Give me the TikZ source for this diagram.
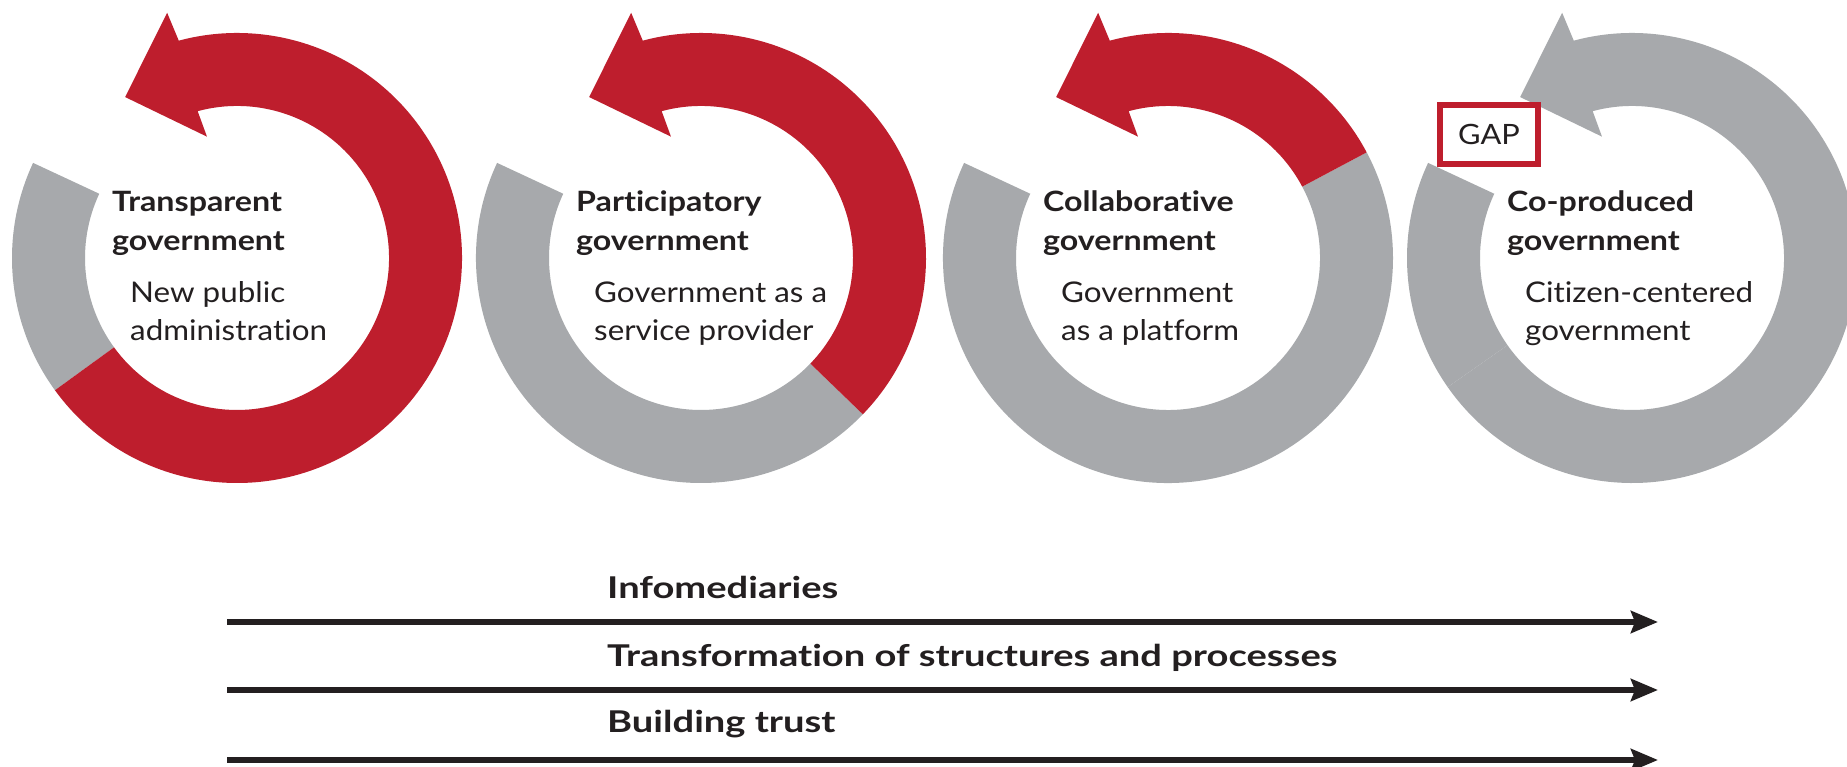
\documentclass[tikz,border=0pt]{standalone}
\usepackage{fontspec}
\setmainfont{Lato}[Ligatures=NoCommon]
\newfontfamily\titlefont{Lato}[FakeStretch=1.15,Ligatures=NoCommon]
\newfontfamily\subfont{Lato}[FakeStretch=1.10,Ligatures=NoCommon]
\newfontfamily\flowfont{Lato}[FakeStretch=1.27,Ligatures=NoCommon]
\newfontfamily\gapfont{Lato}[FakeStretch=1.10,Ligatures=NoCommon]
\usetikzlibrary{arrows.meta}
\definecolor{ringred}{HTML}{BE1E2D}
\definecolor{ringgray}{HTML}{A7A9AC}
\definecolor{ink}{HTML}{231F20}
\tikzset{
  titletext/.style={anchor=base west, inner sep=0pt, text=ink, font=\titlefont\fontsize{28}{34}\selectfont\bfseries},
  subtext/.style={anchor=base west, inner sep=0pt, text=ink, font=\subfont\fontsize{28.5}{34}\selectfont},
  flowtext/.style={anchor=base west, inner sep=0pt, text=ink, font=\flowfont\fontsize{30}{36}\selectfont\bfseries},
  flow/.style={draw=ink, line width=6pt, -{Stealth[length=27pt,width=22pt,inset=4pt]}},
  gapbox/.style={draw=ringred, fill=white, line width=6pt, minimum width=98pt, minimum height=59pt, inner sep=0pt, text=ink, font=\gapfont\fontsize{28}{34}\selectfont},
}
% gray part of the ring: from 155 deg to #2
\newcommand{\graypart}[2]{%
  \begin{scope}[shift={(#1,509)}]
    \fill[ringgray] (155:225) arc[start angle=155,end angle=#2,radius=225]
      -- (#2:152) arc[start angle=#2,end angle=155,radius=152] -- cycle;
  \end{scope}}
% arrow part of the ring: from #2 to 465 deg, with its head, in colour #3
\newcommand{\arrowpart}[3]{%
  \begin{scope}[shift={(#1,509)}]
    \fill[#3] (#2:225) arc[start angle=#2,end angle=465,radius=225]
      -- (105.9:255) -- (124.8:196) -- (103.9:125) -- (105:152)
      arc[start angle=465,end angle=#2,radius=152] -- cycle;
  \end{scope}}
\begin{document}
\begin{tikzpicture}[x=1pt,y=1pt]
\useasboundingbox (0,0) rectangle (1847,767);
\clip (0,0) rectangle (1847,767);
\fill[white] (0,0) rectangle (1847,767);

% rings
\graypart{237}{216}\arrowpart{237}{216}{ringred}
\graypart{701}{316}\arrowpart{701}{316}{ringred}
\graypart{1168}{388}\arrowpart{1168}{388}{ringred}
\graypart{1632}{215}\arrowpart{1632}{215}{ringgray}

% circle 1
\node[titletext] (t1a) at (112,555) {Transparent};
\node[titletext] (t1b) at (112,516) {government};
\node[subtext] (s1a) at (130,464) {New public};
\node[subtext] (s1b) at (130,426) {administration};
% circle 2
\node[titletext] (t2a) at (576,555) {Participatory};
\node[titletext] (t2b) at (576,516) {government};
\node[subtext] (s2a) at (594,464) {Government as a};
\node[subtext] (s2b) at (594,426) {service provider};
% circle 3
\node[titletext] (t3a) at (1043,555) {Collaborative};
\node[titletext] (t3b) at (1043,516) {government};
\node[subtext] (s3a) at (1061,464) {Government};
\node[subtext] (s3b) at (1061,426) {as a platform};
% circle 4
\node[titletext] (t4a) at (1507,555) {Co-produced};
\node[titletext] (t4b) at (1507,516) {government};
\node[subtext] (s4a) at (1525,464) {Citizen-centered};
\node[subtext] (s4b) at (1525,426) {government};

% gap box
\node[gapbox] (gap) at (1489,632.5) {GAP};

% bottom flows
\node[flowtext] (f1) at (607,168) {Infomediaries};
\node[flowtext] (f2) at (607,100) {Transformation of structures and processes};
\node[flowtext] (f3) at (607,34) {Building trust};
\coordinate (a1s) at (227,145); \coordinate (a1e) at (1658,145);
\coordinate (a2s) at (227,77);  \coordinate (a2e) at (1658,77);
\coordinate (a3s) at (227,7);   \coordinate (a3e) at (1658,7);
\draw[flow] (a1s) -- (a1e);
\draw[flow] (a2s) -- (a2e);
\draw[flow] (a3s) -- (a3e);
\end{tikzpicture}
\end{document}
